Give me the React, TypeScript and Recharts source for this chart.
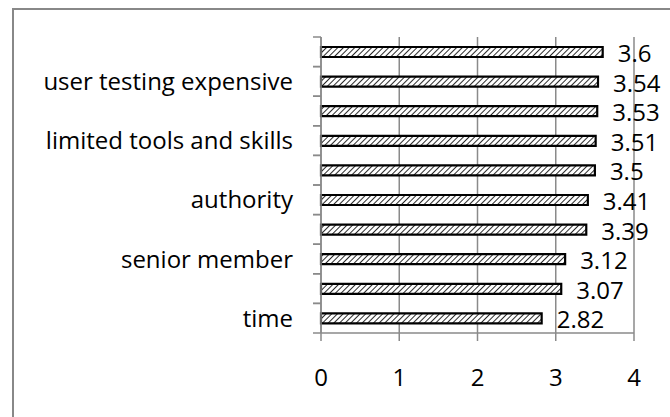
import { BarChart, Bar, XAxis, YAxis, CartesianGrid, LabelList } from "recharts"

// bottom-to-top order, as the rows are listed in the sheet
const categories = [
  "time",
  "",
  "senior member",
  "",
  "authority",
  "",
  "limited tools and skills",
  "",
  "user testing expensive",
  "",
]
const scores = [2.82, 3.07, 3.12, 3.39, 3.41, 3.5, 3.51, 3.53, 3.54, 3.6]
const xTicks = [0, 1, 2, 3, 4]

const data = categories.map((name, i) => ({ id: i, name, score: scores[i] }))

const FONT = "'Open Sans', sans-serif"
const FONT_SIZE = 24
const AXIS_GRAY = "#8a8a8a"
const PLOT_TOP = 37
const PLOT_BOTTOM = 333
const BAND = (PLOT_BOTTOM - PLOT_TOP) / categories.length

function CategoryTick(props: any) {
  const { x, y, payload } = props
  const label = categories[payload.value] ?? ""
  return (
    <g>
      <line x1={x - 8} x2={x} y1={y - BAND / 2} y2={y - BAND / 2} stroke={AXIS_GRAY} strokeWidth={1.5} />
      <line x1={x - 8} x2={x} y1={y + BAND / 2} y2={y + BAND / 2} stroke={AXIS_GRAY} strokeWidth={1.5} />
      <text x={x - 28} y={y + 8.5} textAnchor="end" fontSize={FONT_SIZE} fontFamily={FONT} fill="#000">
        {label}
      </text>
    </g>
  )
}

function ValueTick(props: any) {
  const { x, y, payload } = props
  return (
    <text x={x} y={y + 43} textAnchor="middle" fontSize={FONT_SIZE} fontFamily={FONT} fill="#000">
      {payload.value}
    </text>
  )
}

function ScoreLabel(props: any) {
  const { x, y, width, height, value } = props
  return (
    <text x={x + width + 15} y={y + height / 2 + 10} fontSize={FONT_SIZE} fontFamily={FONT} fill="#000">
      {value}
    </text>
  )
}

export default function App() {
  return (
    <div style={{ position: "absolute", left: 0, top: 0, width: 670, height: 417, background: "#fff", overflow: "hidden" }}>
      <div
        style={{
          position: "absolute",
          left: 12,
          top: 8,
          width: 656,
          height: 420,
          borderLeft: "2px solid #888",
          borderTop: "2px solid #888",
          borderRight: "1px solid #e2e2e2",
        }}
      />
      <BarChart
        width={670}
        height={417}
        data={data}
        layout="vertical"
        margin={{ top: PLOT_TOP, right: 36, bottom: 24, left: 0 }}
        style={{ position: "absolute", left: 0, top: 0 }}
      >
        <defs>
          <pattern id="hatch" width="4" height="4" patternUnits="userSpaceOnUse" patternTransform="rotate(45)">
            <rect width="4" height="4" fill="#fff" />
            <line x1="0" y1="0" x2="0" y2="4" stroke="#2a2a2a" strokeWidth="2" />
          </pattern>
        </defs>
        <CartesianGrid horizontal={false} stroke={AXIS_GRAY} strokeWidth={1.5} />
        <XAxis
          type="number"
          domain={[0, 4]}
          ticks={xTicks}
          height={60}
          axisLine={{ stroke: AXIS_GRAY, strokeWidth: 1.5 }}
          tickLine={{ stroke: AXIS_GRAY, strokeWidth: 1.5 }}
          tickSize={8}
          tick={<ValueTick />}
        />
        <YAxis
          type="category"
          dataKey="id"
          reversed
          width={321}
          interval={0}
          axisLine={{ stroke: AXIS_GRAY, strokeWidth: 1.5 }}
          tickLine={false}
          tickSize={0}
          tickMargin={0}
          tick={<CategoryTick />}
        />
        <Bar dataKey="score" barSize={10} fill="url(#hatch)" stroke="#000" strokeWidth={2.2} isAnimationActive={false}>
          <LabelList dataKey="score" content={<ScoreLabel />} />
        </Bar>
      </BarChart>
    </div>
  )
}
